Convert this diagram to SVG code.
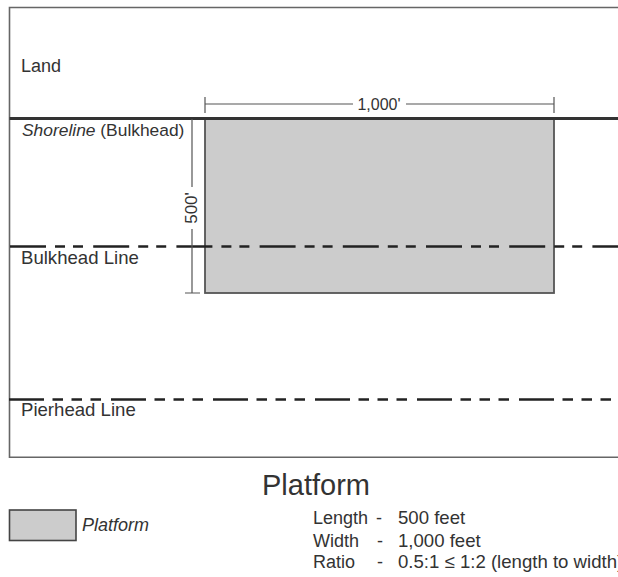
<svg xmlns="http://www.w3.org/2000/svg" width="618" height="577" viewBox="0 0 618 577">
<style>
text{font-family:"Liberation Sans",Arial,sans-serif;fill:#333}
.lbl{font-size:18px}
.val{font-size:18.6px}
.dim{stroke:#555;stroke-width:1.2;fill:none}
.dash{stroke:#222;stroke-width:2.6;fill:none}
</style>
<rect width="618" height="577" fill="#fff"/>
<g id="frame">
<path d="M620 7.5 H9.5 V457.3 H620" fill="none" stroke="#666" stroke-width="1.6"/>
</g>
<g id="platform">
<rect x="205" y="118.5" width="349" height="174.5" fill="#cccccc" stroke="#555" stroke-width="1.8"/>
</g>
<g id="connectors">
<line id="shoreline" x1="9.5" y1="118.5" x2="618" y2="118.5" stroke="#333" stroke-width="3"/>
<line id="bulkhead-line" class="dash" x1="10" y1="246.5" x2="618" y2="246.5" stroke-dasharray="36 9 10 8 10 10.2"/>
<line id="pierhead-line" class="dash" x1="9" y1="399.5" x2="618" y2="399.5" stroke-dasharray="35 8.5 10.5 8.5 10.5 8.5 10.5 10"/>
<g id="dim-width">
<path class="dim" d="M205 104 H353 M406 104 H554 M205 97 V113 M554 97 V113"/>
</g>
<g id="dim-length">
<path class="dim" d="M192 119 V187 M192 229 V293 M185 293 H200"/>
</g>
</g>
<g id="labels">
<text class="lbl" x="21" y="72">Land</text>
<text class="lbl" x="22" y="136" style="font-size:17.4px"><tspan font-style="italic">Shoreline</tspan> (Bulkhead)</text>
<text class="lbl" x="21" y="264" style="font-size:18.6px">Bulkhead Line</text>
<text class="lbl" x="21" y="416" style="font-size:18.6px">Pierhead Line</text>
<text x="379" y="110" font-size="16" text-anchor="middle">1,000'</text>
<text x="197" y="208" font-size="17" text-anchor="middle" transform="rotate(-90 197 208)">500'</text>
</g>
<g id="legend">
<text x="316" y="495" font-size="29" text-anchor="middle">Platform</text>
<rect x="9.5" y="510" width="66.5" height="30.5" fill="#cccccc" stroke="#444" stroke-width="1.6"/>
<text class="lbl" x="82" y="530.5" font-style="italic">Platform</text>
<text class="lbl" x="313" y="524">Length</text>
<text class="lbl" x="376" y="524">-</text>
<text class="val" x="398" y="524">500 feet</text>
<text class="lbl" x="313" y="547">Width</text>
<text class="lbl" x="377" y="547">-</text>
<text class="val" x="398" y="547">1,000 feet</text>
<text class="lbl" x="313" y="568">Ratio</text>
<text class="lbl" x="377" y="568">-</text>
<text class="val" x="398" y="568">0.5:1 ≤ 1:2 (length to width)</text>
</g>
</svg>
